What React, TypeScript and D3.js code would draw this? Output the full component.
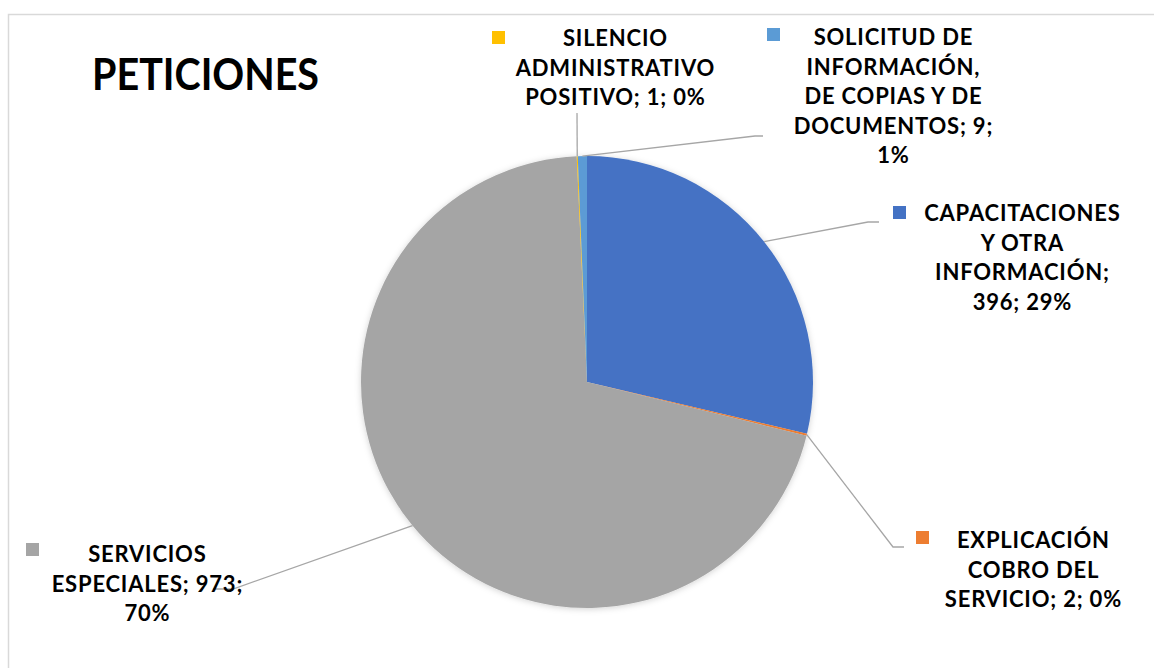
import * as d3 from 'd3';
import { useEffect, useRef } from 'react';

const categories = [
  'CAPACITACIONES Y OTRA INFORMACIÓN',
  'EXPLICACIÓN COBRO DEL SERVICIO',
  'SERVICIOS ESPECIALES',
  'SILENCIO ADMINISTRATIVO POSITIVO',
  'SOLICITUD DE INFORMACIÓN, DE COPIAS Y DE DOCUMENTOS',
];
const values = [396, 2, 973, 1, 9];
const colors = ['#4472C4', '#ED7D31', '#A5A5A5', '#FFC000', '#5B9BD5'];
// label line breaks, {v} = value, {p} = percent
const labelTemplates = [
  'CAPACITACIONES|Y OTRA|INFORMACIÓN;|{v}; {p}',
  'EXPLICACIÓN|COBRO DEL|SERVICIO; {v}; {p}',
  'SERVICIOS|ESPECIALES; {v};|{p}',
  'SILENCIO|ADMINISTRATIVO|POSITIVO; {v}; {p}',
  'SOLICITUD DE|INFORMACIÓN,|DE COPIAS Y DE|DOCUMENTOS; {v};|{p}',
];
const title = 'PETICIONES';

// layout of the data labels: text centre, first line y, legend key, leader elbow
const labelLayout = [
  { cx: 1022, y: 213, kx: 893, ky: 206, ex: 868, hx: 879, ey: 222 },
  { cx: 1033, y: 540, kx: 916, ky: 531, ex: 893, hx: 904, ey: 547 },
  { cx: 147, y: 554, kx: 26, ky: 543, ex: 233, hx: 213, ey: 589 },
  { cx: 615, y: 38, kx: 492, ky: 31, ex: 577, hx: 577, ey: 113 },
  { cx: 893, y: 37, kx: 767, ky: 28, ex: 755, hx: 763, ey: 136 },
];

export default function App() {
  const svgRef = useRef<SVGSVGElement>(null);

  useEffect(() => {
    if (!svgRef.current) return;
    const width = 1154;
    const height = 668;
    const cx = 587;
    const cy = 382;
    const r = 226;
    const font = 'Lato, "DejaVu Sans", sans-serif';

    const svg = d3.select(svgRef.current);
    svg.selectAll('*').remove();
    svg.attr('width', width).attr('height', height);

    svg.append('rect').attr('width', width).attr('height', height).attr('fill', '#fff');
    // chart frame
    svg.append('rect')
      .attr('x', 8.5).attr('y', 14.5)
      .attr('width', 1200).attr('height', 700)
      .attr('fill', 'none').attr('stroke', '#D9D9D9').attr('stroke-width', 1.5);

    const defs = svg.append('defs');
    const filter = defs.append('filter').attr('id', 'shadow')
      .attr('x', '-10%').attr('y', '-10%').attr('width', '120%').attr('height', '120%');
    filter.append('feDropShadow')
      .attr('dx', 0).attr('dy', 1).attr('stdDeviation', 3)
      .attr('flood-color', '#000').attr('flood-opacity', 0.18);

    svg.append('text')
      .attr('x', 92).attr('y', 90)
      .attr('font-family', font).attr('font-weight', 700).attr('font-size', 44)
      .attr('textLength', 227).attr('lengthAdjust', 'spacingAndGlyphs')
      .attr('fill', '#000')
      .text(title);

    const total = d3.sum(values);
    const pie = d3.pie<number>().sort(null).value((d) => d);
    const arcs = pie(values);
    const arc = d3.arc<d3.PieArcDatum<number>>().innerRadius(0).outerRadius(r);
    const edge = d3.arc<d3.PieArcDatum<number>>().innerRadius(r).outerRadius(r);

    const g = svg.append('g').attr('transform', `translate(${cx},${cy})`);
    g.append('g').attr('filter', 'url(#shadow)')
      .selectAll('path')
      .data(arcs)
      .enter()
      .append('path')
      .attr('d', arc)
      .attr('fill', (_, i) => colors[i]);

    // leader lines
    arcs.forEach((a, i) => {
      const L = labelLayout[i];
      const [px, py] = edge.centroid(a);
      const pts: [number, number][] = [
        [cx + px, cy + py],
        [L.ex, L.ey],
        [L.hx, L.ey],
      ];
      svg.append('path')
        .attr('d', d3.line()(pts))
        .attr('fill', 'none')
        .attr('stroke', '#A6A6A6')
        .attr('stroke-width', 1.3);
    });

    // data labels with legend keys
    values.forEach((v, i) => {
      const L = labelLayout[i];
      const pct = Math.round((v / total) * 100) + '%';
      const lines = labelTemplates[i]
        .replace('{v}', String(v))
        .replace('{p}', pct)
        .split('|');
      svg.append('rect')
        .attr('x', L.kx).attr('y', L.ky)
        .attr('width', 13).attr('height', 13)
        .attr('fill', colors[i]);
      const t = svg.append('text')
        .attr('font-family', font).attr('font-weight', 700).attr('font-size', 22)
        .attr('letter-spacing', 0.8)
        .attr('fill', '#000')
        .attr('text-anchor', 'middle');
      lines.forEach((ln, j) => {
        t.append('tspan')
          .attr('x', L.cx + 0.4)
          .attr('y', L.y + j * 29.6)
          .attr('dy', '0.36em')
          .text(ln);
      });
    });
  }, []);

  return (
    <svg ref={svgRef} style={{ position: 'absolute', left: 0, top: 0, display: 'block' }} />
  );
}
